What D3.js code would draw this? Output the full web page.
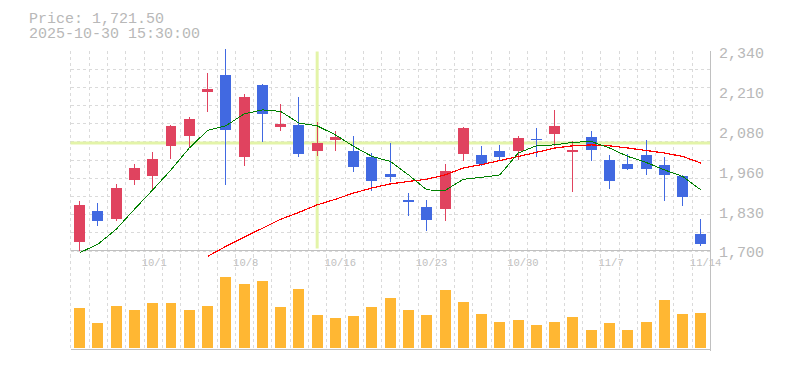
<!DOCTYPE html>
<html>
<head>
<meta charset="utf-8">
<script src="https://cdn.jsdelivr.net/npm/d3@7"></script>
<style>
body { margin: 0; background: #fff; }
svg { display: block; }
</style>
</head>
<body>
<script>
// daily candles, 9/25 - 11/14
var dates = ["9/25","9/26","9/29","9/30","10/1","10/2","10/3","10/6","10/7","10/8",
    "10/9","10/10","10/14","10/15","10/16","10/17","10/20","10/21","10/22","10/23",
    "10/24","10/27","10/28","10/29","10/30","10/31","11/4","11/5","11/6","11/7",
    "11/10","11/11","11/12","11/13","11/14"];
var open  = [1727,1827,1801,1927,1940,2033,2068,2206,2262,1999,2230,2094,2102,2017,2055,2019,2000,1945,1862,1840,
    1834,2010,2006,2019,2017,2057,2074,2014,2064,1991,1977,2006,1974,1939,1753];
var high  = [1859,1853,1913,1977,2016,2102,2128,2269,2346,2201,2233,2169,2192,2112,2083,2067,2013,2045,1885,1862,
    1977,2096,2033,2038,2065,2093,2150,2049,2081,2006,2010,2055,1999,1942,1801];
var low   = [1700,1780,1796,1910,1892,1994,2032,2142,1910,1969,2046,2081,1998,2004,2017,1950,1889,1918,1809,1761,
    1796,1985,1969,1985,1991,1998,2033,1886,1988,1898,1959,1943,1860,1844,1713];
var close = [1846,1793,1901,1965,1993,2099,2121,2217,2087,2192,2138,2105,2010,2045,2064,1966,1924,1934,1854,1799,
    1955,2093,1978,1998,2061,2055,2099,2022,2023,1924,1962,1962,1943,1870,1721.5];
var volume = [400,250,420,380,450,450,380,420,710,640,670,410,590,330,300,320,410,500,380,330,
    580,460,340,260,280,230,260,310,180,250,180,260,480,340,350];
var ma5  = [1693,1720,1768,1832,1894,1958,2028,2084,2099,2137,2150,2145,2108,2099,2070,2033,2001,1985,1942,1894,
    1892,1928,1934,1942,2012,2035,2038,2046,2049,2028,2001,1982,1958,1937,1894];
var ma25 = [null,null,null,null,null,null,null,1681,1713,1743,1771,1800,1822,1846,1864,1884,1900,1913,1921,1928,
    1942,1964,1975,1988,2001,2014,2028,2035,2038,2035,2028,2020,2012,2001,1980];

var xTickLabels = ["10/1","10/8","10/16","10/23","10/30","11/7","11/14"];
var yTickValues = [1700,1828,1956,2084,2212,2340];
var yTickLabels = ["1,700","1,830","1,960","2,080","2,210","2,340"];
var cursor = { date: "10/15", price: 2044 };
var header = ["Price: 1,721.50", "2025-10-30 15:30:00"];

width = 785;
height = 370;
plot = { left: 70.5, right: 710, top: 50.5, bottom: 250.5 };
vol = { top: 268, bottom: 348, axis: 349.5 };

var upColor = "#e0435f", downColor = "#4169e1";
var font = "'Liberation Mono', 'DejaVu Sans Mono', monospace";

const svg = d3.select("body").append("svg")
    .attr("width", width)
    .attr("height", height)
    .attr("viewBox", [0, 0, width, height]);

x = d3.scaleBand()
    .domain(dates)
    .range([plot.left, plot.right])
    .paddingInner(0.4)
    .paddingOuter(0.2);
var step = x.step();
var cx = d => x(d) + x.bandwidth() / 2;

y = d3.scaleLinear()
    .domain([1700, 2340])
    .range([plot.bottom, plot.top]);

yv = d3.scaleLinear()
    .domain([0, 800])
    .range([vol.bottom, vol.top]);

// grid
var grid = svg.append("g")
    .attr("stroke", "#dadada")
    .attr("stroke-dasharray", "3,3")
    .attr("shape-rendering", "crispEdges");
grid.selectAll("line.h")
    .data(d3.range(11))
    .join("line")
    .attr("class", "h")
    .attr("x1", plot.left).attr("x2", plot.right)
    .attr("y1", i => Math.round(y(1700 + i * 640 / 11)) + 0.5)
    .attr("y2", i => Math.round(y(1700 + i * 640 / 11)) + 0.5);
grid.selectAll("line.v")
    .data(dates)
    .join("line")
    .attr("class", "v")
    .attr("x1", d => Math.round(x(d) - step * 0.2) + 0.5)
    .attr("x2", d => Math.round(x(d) - step * 0.2) + 0.5)
    .attr("y1", plot.top).attr("y2", vol.axis);

// cursor crosshair
svg.append("line")
    .attr("x1", cx(cursor.date)).attr("x2", cx(cursor.date))
    .attr("y1", plot.top + 1).attr("y2", plot.bottom - 2)
    .attr("stroke", "#e3f4a8").attr("stroke-width", 3);
svg.append("line")
    .attr("x1", plot.left).attr("x2", plot.right)
    .attr("y1", y(cursor.price)).attr("y2", y(cursor.price))
    .attr("stroke", "#e3f4a8").attr("stroke-width", 3);

// axes lines
var axes = svg.append("g").attr("stroke", "#c0c0c0").attr("shape-rendering", "crispEdges");
axes.append("line").attr("x1", plot.left).attr("x2", plot.right).attr("y1", plot.bottom).attr("y2", plot.bottom);
axes.append("line").attr("x1", plot.left).attr("x2", plot.right).attr("y1", vol.axis).attr("y2", vol.axis);
axes.append("line").attr("x1", plot.right + 0.5).attr("x2", plot.right + 0.5).attr("y1", plot.top).attr("y2", vol.axis + 1);

// candles
var candles = svg.append("g")
    .attr("shape-rendering", "crispEdges")
    .selectAll("g")
    .data(dates)
    .join("g")
    .attr("fill", (d, i) => close[i] >= open[i] ? upColor : downColor)
    .attr("stroke", (d, i) => close[i] >= open[i] ? upColor : downColor);
candles.append("line")
    .attr("x1", d => Math.floor(cx(d)) + 0.5)
    .attr("x2", d => Math.floor(cx(d)) + 0.5)
    .attr("y1", (d, i) => y(high[i]))
    .attr("y2", (d, i) => y(low[i]));
candles.append("rect")
    .attr("stroke", "none")
    .attr("x", d => x(d))
    .attr("width", x.bandwidth())
    .attr("y", (d, i) => y(Math.max(open[i], close[i])))
    .attr("height", (d, i) => Math.max(1, Math.abs(y(open[i]) - y(close[i]))));

// moving averages
var maLine = d3.line()
    .defined(d => d[1] != null)
    .x(d => cx(d[0]))
    .y(d => y(d[1]));
svg.append("path")
    .attr("d", maLine(dates.map((d, i) => [d, ma25[i]])))
    .attr("fill", "none").attr("stroke", "#ff0000").attr("stroke-width", 1.2)
    .attr("shape-rendering", "crispEdges");
svg.append("path")
    .attr("d", maLine(dates.map((d, i) => [d, ma5[i]])))
    .attr("fill", "none").attr("stroke", "#008000").attr("stroke-width", 1)
    .attr("shape-rendering", "crispEdges");

// volume
svg.append("g")
    .attr("fill", "#ffb733")
    .attr("shape-rendering", "crispEdges")
    .selectAll("rect")
    .data(dates)
    .join("rect")
    .attr("x", d => x(d))
    .attr("width", x.bandwidth())
    .attr("y", (d, i) => yv(volume[i]))
    .attr("height", (d, i) => yv(0) - yv(volume[i]));

// tick labels
svg.append("g")
    .attr("fill", "#b8b8b8")
    .style("font-family", font)
    .style("font-size", "15px")
    .selectAll("text")
    .data(yTickValues)
    .join("text")
    .attr("x", 719)
    .attr("y", (d, i) => y(d) + (i == 0 ? 6.8 : 7.8))
    .text((d, i) => yTickLabels[i]);

svg.append("g")
    .attr("fill", "#c0c0c0")
    .style("font-family", font)
    .style("font-size", "10.5px")
    .selectAll("text")
    .data(xTickLabels)
    .join("text")
    .attr("x", d => cx(d) - 11)
    .attr("y", 266)
    .text(d => d);

// header
svg.append("g")
    .attr("fill", "#b8b8b8")
    .style("font-family", font)
    .style("font-size", "15px")
    .selectAll("text")
    .data(header)
    .join("text")
    .attr("x", 29)
    .attr("y", (d, i) => 22.5 + i * 15.3)
    .text(d => d);
</script>
</body>
</html>
